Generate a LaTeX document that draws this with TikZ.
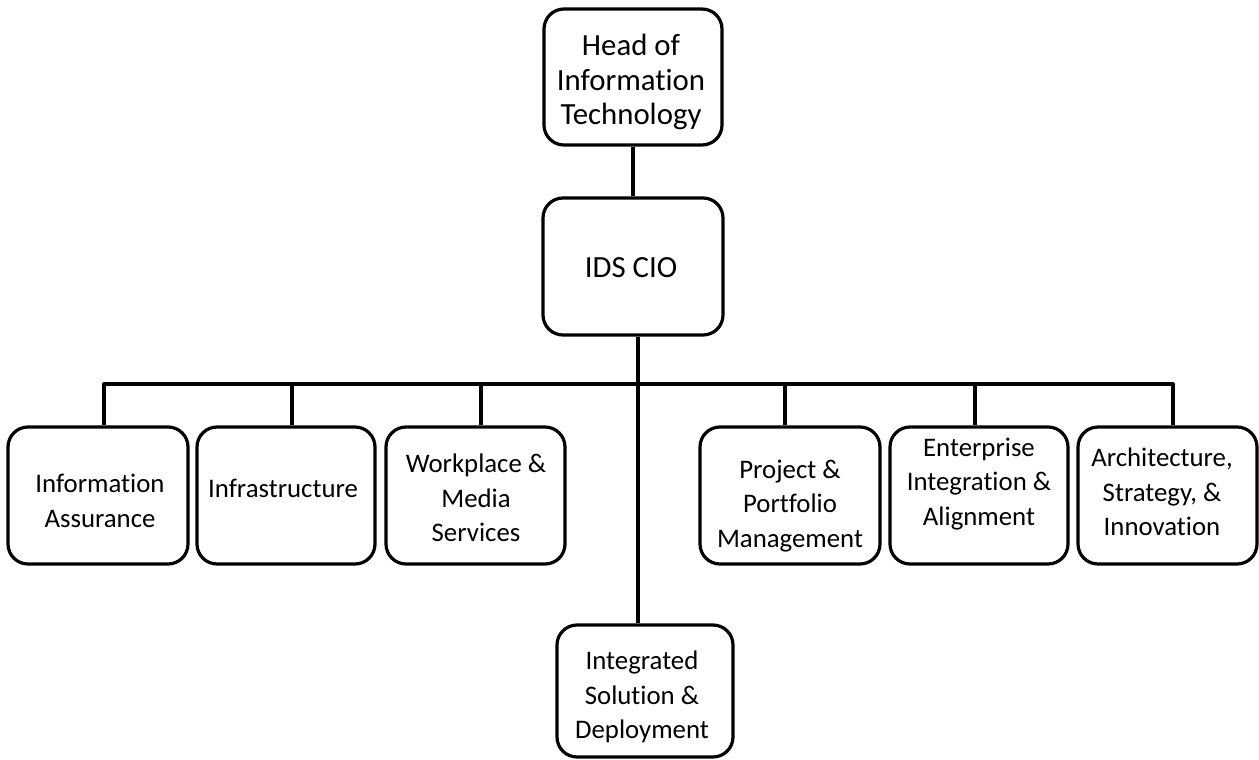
\documentclass[tikz,border=0pt]{standalone}
\usepackage{fontspec}
\setmainfont{Carlito}[Ligatures=NoCommon]
\begin{document}
\begin{tikzpicture}[x=0.5pt,y=-0.5pt,
  box/.style={draw=black, line width=1.6pt, rounded corners=10pt, inner sep=0pt},
  txt/.style={align=center, inner sep=0pt, font=\fontsize{13.4}{17.25}\selectfont},
  bigtxt/.style={align=center, inner sep=0pt, font=\fontsize{15.4}{17.25}\selectfont},
  link/.style={line width=1.6pt, line join=round}]
\useasboundingbox (0,0) rectangle (1259,760);
% boxes
\node[box, minimum width=89pt, minimum height=68pt] (head) at (633,77) {};
\node[box, minimum width=90pt, minimum height=68.5pt] (cio) at (633,266.5) {};
\node[box, minimum width=90pt, minimum height=68.5pt] (b1) at (98,495.5) {};
\node[box, minimum width=89pt, minimum height=68.5pt] (b2) at (286,495.5) {};
\node[box, minimum width=89.5pt, minimum height=68.5pt] (b3) at (475.5,495.5) {};
\node[box, minimum width=90pt, minimum height=68.5pt] (b5) at (790,495.5) {};
\node[box, minimum width=89pt, minimum height=68.5pt] (b6) at (979,495.5) {};
\node[box, minimum width=89.5pt, minimum height=68.5pt] (b7) at (1167.5,495.5) {};
\node[box, minimum width=88pt, minimum height=66pt] (isd) at (645,691) {};
% texts
\node[bigtxt] (headt) at (631,82) {Head of\\Information\\Technology};
\node[bigtxt] (ciot) at (631,268) {IDS CIO};
\node[txt] (b1t) at (100,501) {Information\\Assurance};
\node[txt] (b2t) at (283,488) {Infrastructure};
\node[txt] (b3t) at (476,498) {Workplace \&\\Media\\Services};
\node[txt] (b5t) at (790,506) {Project \&\\Portfolio\\Management};
\node[txt] (b6t) at (979,484) {Enterprise\\Integration \&\\Alignment};
\node[txt] (b7t) at (1162,492) {Architecture,\\Strategy, \&\\Innovation};
\node[txt] (isdt) at (642,697) {Integrated\\Solution \&\\Deployment};
% connectors
\coordinate (trunk) at (638,384);
\coordinate (d1) at (104,384);
\coordinate (d2) at (292,384);
\coordinate (d3) at (481,384);
\coordinate (d5) at (785,384);
\coordinate (d6) at (975,384);
\coordinate (d7) at (1173,384);
\draw[link] (head.south) -- (head.south |- cio.north);
\draw[link] (cio.south -| trunk) -- (trunk |- isd.north);
\draw[link] (d1 |- b1.north) -- (d1) -- (d7) -- (d7 |- b7.north);
\draw[link] (d2) -- (d2 |- b2.north);
\draw[link] (d3) -- (d3 |- b3.north);
\draw[link] (d5) -- (d5 |- b5.north);
\draw[link] (d6) -- (d6 |- b6.north);
\end{tikzpicture}
\end{document}
